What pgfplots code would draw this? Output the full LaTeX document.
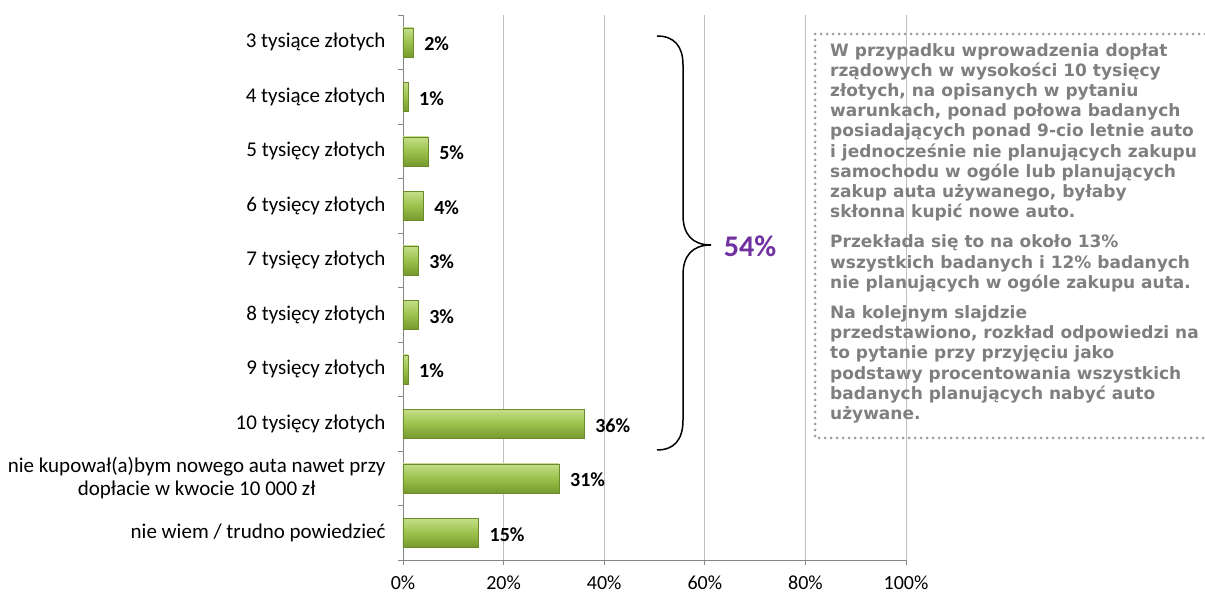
\documentclass[border=0pt]{standalone}
\usepackage{pgfplots}
\pgfplotsset{compat=1.18}
\usepackage{fontspec}
\setmainfont{Carlito}
\newfontfamily\verd{DejaVu Sans}
\definecolor{barlight}{HTML}{C5DE8A}
\definecolor{barmid}{HTML}{9CC24C}
\definecolor{bardark}{HTML}{77992F}
\definecolor{gridc}{HTML}{C0C0C0}
\definecolor{axc}{HTML}{868686}
\definecolor{boxtext}{HTML}{7F7F7F}
\definecolor{boxdots}{HTML}{9C9C9C}
\definecolor{purp}{HTML}{7030A0}
\pgfplotsset{
  mybar/.style={xbar, bar width=29pt, bar shift=0pt, draw=bardark!90!black, line width=0.4pt,
    top color=barlight, bottom color=bardark, middle color=barmid,
    nodes near coords={\pgfmathprintnumber[assume math mode=true]{\pgfplotspointmeta}\%},
    point meta=x,
    every node near coord/.append style={font=\bfseries\fontsize{20}{20}\selectfont, text=black,
      anchor=west, inner sep=0pt, xshift=11pt, yshift=-1.5pt}},
}
\begin{document}
\begin{tikzpicture}[x=1pt,y=1pt]
\useasboundingbox (0,0) rectangle (1205,602);
\begin{axis}[
  at={(403pt,42pt)}, anchor=south west,
  scale only axis, width=503pt, height=545pt,
  xmin=0, xmax=100, ymin=-0.5, ymax=9.5,
  axis x line=bottom, axis y line=left,
  axis line style={-, draw=axc, line width=0.8pt},
  tick align=outside, major tick length=5pt,
  tick style={draw=axc, line width=0.8pt},
  xtick={0,20,40,60,80,100},
  xticklabels={0\%,20\%,40\%,60\%,80\%,100\%},
  xmajorgrids, grid style={draw=gridc, line width=0.8pt},
  ytick={-0.5,0.5,...,9.5}, yticklabels={},
  extra y ticks={0,1,2,3,4,5,6,7,8,9},
  extra y tick labels={nie wiem / trudno powiedzieć,{nie kupował(a)bym nowego auta nawet przy\\dopłacie w kwocie 10 000 zł},10 tysięcy złotych,9 tysięcy złotych,8 tysięcy złotych,7 tysięcy złotych,6 tysięcy złotych,5 tysięcy złotych,4 tysiące złotych,3 tysiące złotych},
  extra y tick style={tick style={draw=none}, yticklabel style={align=center, xshift=-9pt}},
  ticklabel style={font=\fontsize{21}{23}\selectfont, text=black},
  xticklabel style={font=\fontsize{20}{23}\selectfont, yshift=-7pt},
  clip=false,
]
\addplot[mybar] coordinates {(15,0)};
\addplot[mybar] coordinates {(31,1)};
\addplot[mybar] coordinates {(36,2)};
\addplot[mybar] coordinates {(1,3)};
\addplot[mybar] coordinates {(3,4)};
\addplot[mybar] coordinates {(3,5)};
\addplot[mybar] coordinates {(4,6)};
\addplot[mybar] coordinates {(5,7)};
\addplot[mybar] coordinates {(1,8)};
\addplot[mybar] coordinates {(2,9)};
\end{axis}
% brace
\draw[black, line width=1.5pt]
  (657,566) .. controls (674,566) and (683,556) .. (683,537)
  -- (683,387) .. controls (683,368) and (692,357) .. (711,357)
  .. controls (692,357) and (683,346) .. (683,327)
  -- (683,182) .. controls (683,162) and (674,152) .. (657,152);
\node[text=purp, font=\bfseries\fontsize{30}{30}\selectfont, anchor=center] at (750,356) {54\%};
% text box
\draw[boxdots, line width=3pt, line cap=round, dash pattern=on 0pt off 6pt]
  (1205,568) -- (815,568) -- (815,164) -- (1205,164);
\node[anchor=north west, align=left, inner sep=0pt, text=boxtext,
  font=\verd\bfseries\fontsize{17}{20.2}\selectfont] at (830,559) {%
W przypadku wprowadzenia dopłat\\
rządowych w wysokości 10 tysięcy\\
złotych, na opisanych w pytaniu\\
warunkach, ponad połowa badanych\\
posiadających ponad 9-cio letnie auto\\
i jednocześnie nie planujących zakupu\\
samochodu w ogóle lub planujących\\
zakup auta używanego, byłaby\\
skłonna kupić nowe auto.\\[10pt]
Przekłada się to na około 13\%\\
wszystkich badanych i 12\% badanych\\
nie planujących w ogóle zakupu auta.\\[10pt]
Na kolejnym slajdzie\\
przedstawiono, rozkład odpowiedzi na\\
to pytanie przy przyjęciu jako\\
podstawy procentowania wszystkich\\
badanych planujących nabyć auto\\
używane.};
\end{tikzpicture}
\end{document}
